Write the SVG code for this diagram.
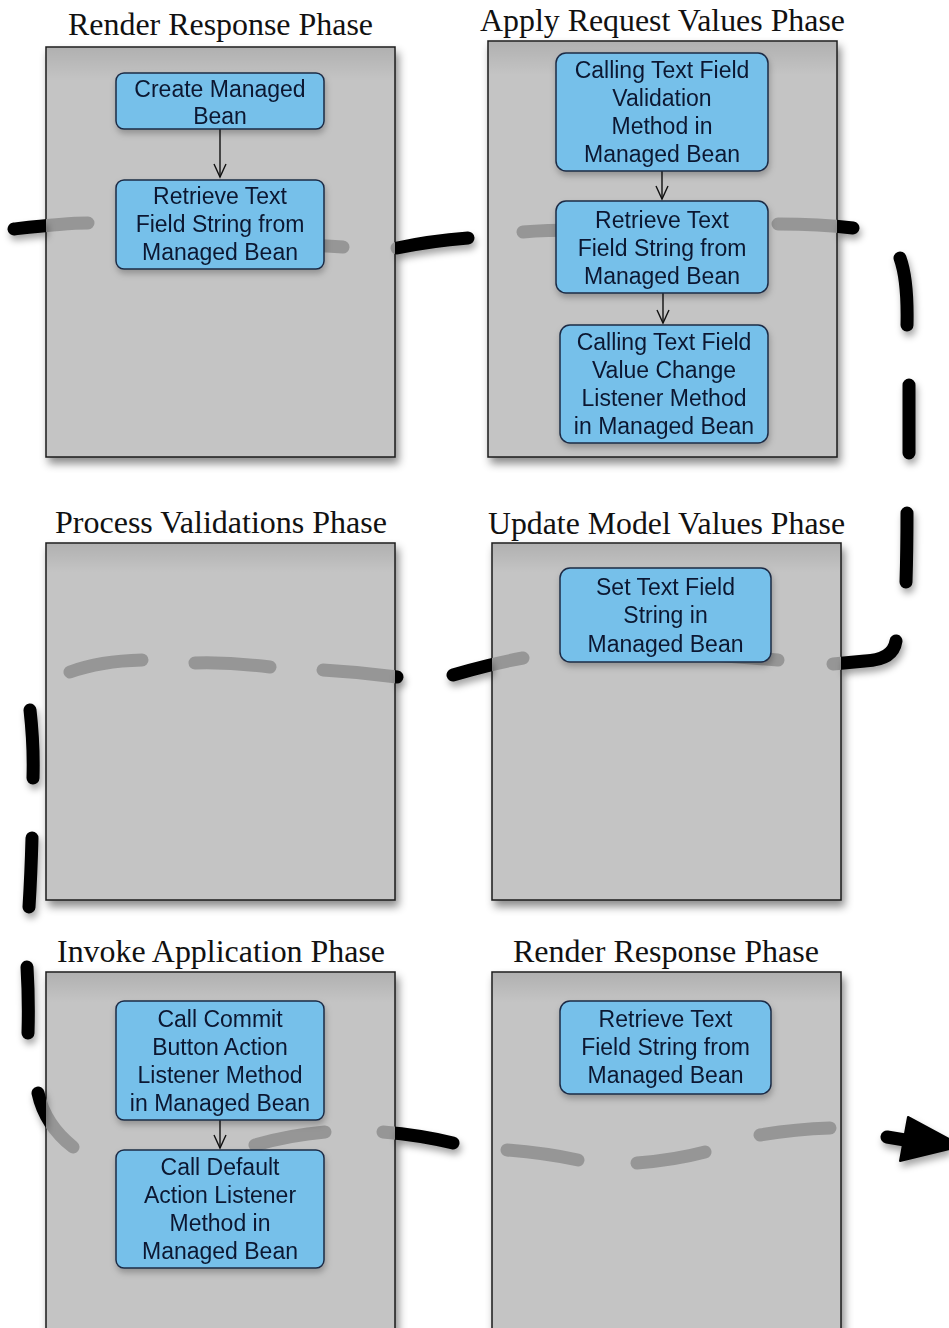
<svg xmlns="http://www.w3.org/2000/svg" xmlns:xlink="http://www.w3.org/1999/xlink" width="949" height="1328" viewBox="0 0 949 1328">
<style>
.title{font-family:"Liberation Serif","Times New Roman",serif;font-size:31px;fill:#111;text-anchor:middle}
.lbl{font-family:"Liberation Sans",Arial,sans-serif;font-size:23px;fill:#0b1830;text-anchor:middle}
.panel{fill:#c4c4c4;stroke:#1a1a1a;stroke-width:1.5}
.box{fill:#76c0ea;stroke:#1b2b45;stroke-width:1.5}
.flow{fill:none;stroke-width:13;stroke-linecap:round;stroke-linejoin:round}
.arr{stroke:#111;stroke-width:1.4;fill:none}
</style>
<defs>
<filter id="pshadow" x="-10%" y="-10%" width="130%" height="130%">
<feDropShadow dx="3" dy="6" stdDeviation="4" flood-color="#000" flood-opacity="0.45"/>
</filter>
<filter id="bshadow" x="-10%" y="-10%" width="130%" height="140%">
<feDropShadow dx="1" dy="4" stdDeviation="3" flood-color="#000" flood-opacity="0.25"/>
</filter>
<filter id="lshadow" x="-20%" y="-20%" width="140%" height="140%">
<feDropShadow dx="2" dy="5" stdDeviation="3.5" flood-color="#000" flood-opacity="0.35"/>
</filter>
<linearGradient id="inner" x1="0" y1="0" x2="0" y2="1">
<stop offset="0" stop-color="#000" stop-opacity="0.10"/>
<stop offset="0.08" stop-color="#000" stop-opacity="0"/>
</linearGradient>
<marker id="v" markerUnits="userSpaceOnUse" markerWidth="16" markerHeight="16" refX="0" refY="0" orient="auto" overflow="visible">
<path d="M-13,-6 L0,0 L-13,6" fill="none" stroke="#111" stroke-width="1.4"/>
</marker>
<mask id="outside" maskUnits="userSpaceOnUse" x="0" y="0" width="949" height="1328">
<rect x="0" y="0" width="949" height="1328" fill="#fff"/>
<rect x="46" y="47" width="349" height="410" fill="#000"/>
<rect x="488" y="41" width="349" height="416" fill="#000"/>
<rect x="46" y="543" width="349" height="357" fill="#000"/>
<rect x="492" y="543" width="349" height="357" fill="#000"/>
<rect x="46" y="972" width="349" height="370" fill="#000"/>
<rect x="492" y="972" width="349" height="370" fill="#000"/>
</mask>
<mask id="inside" maskUnits="userSpaceOnUse" x="0" y="0" width="949" height="1328">
<rect x="46" y="47" width="349" height="410" fill="#fff"/>
<rect x="488" y="41" width="349" height="416" fill="#fff"/>
<rect x="46" y="543" width="349" height="357" fill="#fff"/>
<rect x="492" y="543" width="349" height="357" fill="#fff"/>
<rect x="46" y="972" width="349" height="370" fill="#fff"/>
<rect x="492" y="972" width="349" height="370" fill="#fff"/>
</mask>
<path id="flowpath" d="M14,229 C40,226 65,223 88,223 M285,244 Q315,245 343,247 M397,248 Q430,241 468,238 M523,232 Q545,230 580,230 M778,224 Q820,224 853,228 M900,258 Q908,280 907,325 M909,385 L909,453 M907,513 Q907,550 906,582 M896,641 Q893,660 865,661 L833,664 M712,655 L778,660 M523,658 Q490,664 453,675 M397,677 Q360,672 323,670 M270,667 Q230,662 195,663 M142,660 Q100,661 70,672 M30,710 Q34,745 33,778 M32,838 Q31,875 29,907 M27,967 Q29,1000 28,1033 M38,1093 Q45,1125 73,1147 M255,1145 Q290,1135 325,1132 M383,1132 Q420,1135 453,1143 M507,1150 Q545,1153 578,1160 M637,1163 Q675,1160 705,1152 M760,1135 Q795,1129 830,1128 M887,1137 L905,1140"/>
</defs>
<rect width="949" height="1328" fill="#fff"/>

<g id="panel-render-response-1">
<rect class="panel" x="46" y="47" width="349" height="410" filter="url(#pshadow)"/>
<rect x="47" y="48" width="347" height="408" fill="url(#inner)"/>
<text class="title" x="220.5" y="35" textLength="305" lengthAdjust="spacingAndGlyphs">Render Response Phase</text>
</g>
<g id="panel-apply-request-values">
<rect class="panel" x="488" y="41" width="349" height="416" filter="url(#pshadow)"/>
<rect x="489" y="42" width="347" height="414" fill="url(#inner)"/>
<text class="title" x="662.5" y="31" textLength="365" lengthAdjust="spacingAndGlyphs">Apply Request Values Phase</text>
</g>
<g id="panel-process-validations">
<rect class="panel" x="46" y="543" width="349" height="357" filter="url(#pshadow)"/>
<rect x="47" y="544" width="347" height="355" fill="url(#inner)"/>
<text class="title" x="221" y="533" textLength="332" lengthAdjust="spacingAndGlyphs">Process Validations Phase</text>
</g>
<g id="panel-update-model-values">
<rect class="panel" x="492" y="543" width="349" height="357" filter="url(#pshadow)"/>
<rect x="493" y="544" width="347" height="355" fill="url(#inner)"/>
<text class="title" x="666.5" y="534" textLength="357" lengthAdjust="spacingAndGlyphs">Update Model Values Phase</text>
</g>
<g id="panel-invoke-application">
<rect class="panel" x="46" y="972" width="349" height="370" filter="url(#pshadow)"/>
<rect x="47" y="973" width="347" height="368" fill="url(#inner)"/>
<text class="title" x="221" y="962" textLength="328" lengthAdjust="spacingAndGlyphs">Invoke Application Phase</text>
</g>
<g id="panel-render-response-2">
<rect class="panel" x="492" y="972" width="349" height="370" filter="url(#pshadow)"/>
<rect x="493" y="973" width="347" height="368" fill="url(#inner)"/>
<text class="title" x="666" y="962" textLength="306" lengthAdjust="spacingAndGlyphs">Render Response Phase</text>
</g>

<g id="connectors">
<g mask="url(#inside)">
<use xlink:href="#flowpath" class="flow" stroke="#969696"/>
</g>
<g filter="url(#lshadow)">
<g mask="url(#outside)">
<use xlink:href="#flowpath" class="flow" stroke="#000"/>
<polygon points="908,1117 900,1161 962,1146" fill="#000" stroke="#000" stroke-width="2" stroke-linejoin="round"/>
</g>
</g>
<line class="arr" x1="220" y1="129" x2="220" y2="177" marker-end="url(#v)"/>
<line class="arr" x1="662" y1="171" x2="662" y2="199" marker-end="url(#v)"/>
<line class="arr" x1="663" y1="293" x2="663" y2="323" marker-end="url(#v)"/>
<line class="arr" x1="220" y1="1120" x2="220" y2="1148" marker-end="url(#v)"/>
</g>

<g id="node-create-managed-bean" filter="url(#bshadow)">
<rect class="box" x="116" y="73" width="208" height="56" rx="8"/>
<text class="lbl" x="220" y="97">Create Managed</text>
<text class="lbl" x="220" y="124">Bean</text>
</g>
<g id="node-retrieve-1" filter="url(#bshadow)">
<rect class="box" x="116" y="180" width="208" height="89" rx="8"/>
<text class="lbl" x="220" y="204">Retrieve Text</text>
<text class="lbl" x="220" y="232">Field String from</text>
<text class="lbl" x="220" y="260">Managed Bean</text>
</g>
<g id="node-validation-method" filter="url(#bshadow)">
<rect class="box" x="556" y="53" width="212" height="118" rx="10"/>
<text class="lbl" x="662" y="78">Calling Text Field</text>
<text class="lbl" x="662" y="106">Validation</text>
<text class="lbl" x="662" y="134">Method in</text>
<text class="lbl" x="662" y="162">Managed Bean</text>
</g>
<g id="node-retrieve-2" filter="url(#bshadow)">
<rect class="box" x="556" y="201" width="212" height="92" rx="10"/>
<text class="lbl" x="662" y="228">Retrieve Text</text>
<text class="lbl" x="662" y="256">Field String from</text>
<text class="lbl" x="662" y="284">Managed Bean</text>
</g>
<g id="node-value-change-listener" filter="url(#bshadow)">
<rect class="box" x="560" y="325" width="208" height="118" rx="10"/>
<text class="lbl" x="664" y="350">Calling Text Field</text>
<text class="lbl" x="664" y="378">Value Change</text>
<text class="lbl" x="664" y="406">Listener Method</text>
<text class="lbl" x="664" y="434">in Managed Bean</text>
</g>
<g id="node-set-text-field" filter="url(#bshadow)">
<rect class="box" x="560" y="568" width="211" height="94" rx="10"/>
<text class="lbl" x="665.5" y="595">Set Text Field</text>
<text class="lbl" x="665.5" y="623">String in</text>
<text class="lbl" x="665.5" y="652">Managed Bean</text>
</g>
<g id="node-commit-listener" filter="url(#bshadow)">
<rect class="box" x="116" y="1001" width="208" height="119" rx="8"/>
<text class="lbl" x="220" y="1027">Call Commit</text>
<text class="lbl" x="220" y="1055">Button Action</text>
<text class="lbl" x="220" y="1083">Listener Method</text>
<text class="lbl" x="220" y="1111">in Managed Bean</text>
</g>
<g id="node-default-listener" filter="url(#bshadow)">
<rect class="box" x="116" y="1150" width="208" height="118" rx="8"/>
<text class="lbl" x="220" y="1175">Call Default</text>
<text class="lbl" x="220" y="1203">Action Listener</text>
<text class="lbl" x="220" y="1231">Method in</text>
<text class="lbl" x="220" y="1259">Managed Bean</text>
</g>
<g id="node-retrieve-3" filter="url(#bshadow)">
<rect class="box" x="560" y="1001" width="211" height="93" rx="10"/>
<text class="lbl" x="665.5" y="1027">Retrieve Text</text>
<text class="lbl" x="665.5" y="1055">Field String from</text>
<text class="lbl" x="665.5" y="1083">Managed Bean</text>
</g>
</svg>
